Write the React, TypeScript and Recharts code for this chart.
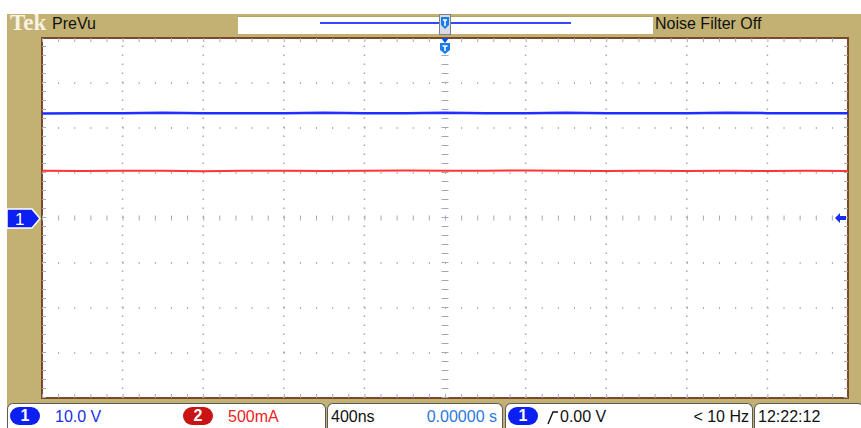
import { LineChart, Line, XAxis, YAxis, ReferenceLine, ReferenceArea } from "recharts";

// 400 ns/div, trigger at centre
const TIME_NS = [-2000, -1800, -1600, -1400, -1200, -1000, -800, -600, -400, -200, 0, 200, 400, 600, 800, 1000, 1200, 1400, 1600, 1800, 2000];
// ch1 10.0 V/div
const CH1_VOLTS = [23.2, 23.3, 23.3, 23.4, 23.3, 23.3, 23.3, 23.4, 23.3, 23.3, 23.4, 23.3, 23.3, 23.4, 23.3, 23.3, 23.3, 23.4, 23.3, 23.3, 23.3];
// ch2 500 mA/div
const CH2_MA = [525, 522, 526, 524, 520, 524, 526, 523, 525, 527, 524, 526, 528, 524, 522, 525, 523, 524, 522, 524, 522];

const GRID_X_NS = [-1600, -1200, -800, -400, 400, 800, 1200, 1600];
const GRID_Y_V = [-30, -20, -10, 10, 20, 30];

const data = TIME_NS.map((t, i) => ({ t, ch1: CH1_VOLTS[i], ch2: CH2_MA[i] }));

const TAN = "#c2b172";
const BORDER = "#7a4a28";
const DOT = "#a6a6bc";
const BLUE = "#1f2eff";
const RED = "#ff3434";
const FONT = "'Liberation Sans', Arial, sans-serif";

const txt = (left: number, color: string, extra: any = {}) => ({
  position: "absolute" as const,
  left,
  top: 3,
  fontSize: 16,
  lineHeight: "20px",
  color,
  whiteSpace: "nowrap" as const,
  ...extra,
});

function Pill({ left, label, bg }: { left: number; label: string; bg: string }) {
  return (
    <div
      style={{
        position: "absolute",
        left,
        top: 3,
        width: 30,
        height: 18,
        borderRadius: 9,
        background: bg,
        color: "#fff",
        fontSize: 16,
        lineHeight: "18px",
        textAlign: "center",
        fontWeight: "bold",
      }}
    >
      {label}
    </div>
  );
}

function Box({ left, width, children }: { left: number; width: number; children?: any }) {
  return (
    <div
      style={{
        position: "absolute",
        left,
        top: 403,
        width,
        height: 30,
        background: "#fff",
        border: "1px solid #5a5a5a",
        borderBottom: "none",
        borderRadius: "6px 6px 0 0",
        boxSizing: "border-box",
      }}
    >
      {children}
    </div>
  );
}

export default function App() {
  return (
    <div
      style={{
        position: "absolute",
        left: 0,
        top: 0,
        width: 861,
        height: 428,
        background: "#fff",
        overflow: "hidden",
        fontFamily: FONT,
      }}
    >
      <div style={{ position: "absolute", left: 7, top: 14, width: 854, height: 414, background: TAN }} />
      <div style={{ position: "absolute", left: 42, top: 38, width: 806, height: 360, background: "#fff" }} />

      <div style={{ position: "absolute", left: 0, top: 0 }}>
        <LineChart width={861} height={428} data={data} margin={{ top: 38, right: 13, bottom: 30, left: 42 }}>
          <XAxis dataKey="t" type="number" domain={[-2000, 2000]} hide />
          <YAxis yAxisId="v" type="number" domain={[-40, 40]} hide />
          <YAxis yAxisId="i" type="number" domain={[-2000, 2000]} hide orientation="right" />

          {GRID_Y_V.map((y) => (
            <ReferenceLine key={"h" + y} yAxisId="v" y={y} stroke={DOT} strokeWidth={2} strokeDasharray="1 15.12" />
          ))}
          {GRID_X_NS.map((x) => (
            <ReferenceLine key={"v" + x} yAxisId="v" x={x} stroke={DOT} strokeWidth={1.5} strokeDasharray="1.5 7.5" />
          ))}
          <ReferenceLine yAxisId="v" y={0} stroke={DOT} strokeWidth={5} strokeDasharray="1 15.12" />
          <ReferenceLine yAxisId="v" x={0} stroke={DOT} strokeWidth={7} strokeDasharray="1 8" />

          {/* edge ticks, clipped to half inside the graticule */}
          <ReferenceLine yAxisId="v" y={40} stroke={DOT} strokeWidth={8} strokeDasharray="1 15.12" ifOverflow="hidden" />
          <ReferenceLine yAxisId="v" y={-40} stroke={DOT} strokeWidth={8} strokeDasharray="1 15.12" ifOverflow="hidden" />
          <ReferenceLine yAxisId="v" x={-2000} stroke={DOT} strokeWidth={8} strokeDasharray="1 8" ifOverflow="hidden" />
          <ReferenceLine yAxisId="v" x={2000} stroke={DOT} strokeWidth={8} strokeDasharray="1 8" ifOverflow="hidden" />

          <ReferenceArea yAxisId="v" x1={-2000} x2={2000} y1={-40} y2={40} fill="none" stroke={BORDER} strokeWidth={2} />

          <Line yAxisId="v" dataKey="ch1" type="linear" stroke={BLUE} strokeWidth={2.5} dot={false} isAnimationActive={false} />
          <Line yAxisId="i" dataKey="ch2" type="linear" stroke={RED} strokeWidth={2} dot={false} isAnimationActive={false} />
        </LineChart>
      </div>

      {/* top bar */}
      <div style={{ position: "absolute", left: 10, top: 10, fontFamily: "'Liberation Serif', serif", fontWeight: "bold", fontSize: 23, color: "#f7f2e2" }}>
        Tek
      </div>
      <div style={{ position: "absolute", left: 52, top: 15, fontSize: 16, color: "#111" }}>PreVu</div>
      <div style={{ position: "absolute", left: 238, top: 16, width: 415, height: 17, background: "#fff", borderTop: "1px solid #b3a468" }} />
      <div style={{ position: "absolute", left: 320, top: 22, width: 251, height: 2, background: "#3548ff" }} />
      <svg style={{ position: "absolute", left: 438, top: 14 }} width={14} height={40}>
        <rect x={1.5} y={0.5} width={11} height={20} fill="#d6dbe6" stroke="#808080" />
        <path d="M3 3 L11 3 L11 11 L7 15 L3 11 Z" fill="#1a7ee8" />
        <path d="M5 6 H9 M7 6 V12" stroke="#fff" strokeWidth={1.5} />
        <path d="M3 24 L11 24 L7 29 Z" fill="#1050e0" />
        <path d="M2 29 L12 29 L12 36 L7 40 L2 36 Z" fill="#1a7ee8" />
        <path d="M4.5 32 H9.5 M7 32 V37" stroke="#fff" strokeWidth={1.5} />
      </svg>
      <div style={{ position: "absolute", left: 655, top: 15, fontSize: 16, color: "#111" }}>Noise Filter Off</div>

      {/* channel 1 ground marker */}
      <svg style={{ position: "absolute", left: 6, top: 208 }} width={36} height={21}>
        <path d="M1 1 H26 L34 10.5 L26 20 H1 Z" fill="#0b1ff2" stroke="#fff" strokeWidth={1.5} />
        <text x={9} y={16.5} fill="#fff" fontSize={17} fontFamily={FONT}>1</text>
      </svg>
      {/* trigger level marker */}
      <svg style={{ position: "absolute", left: 834, top: 212 }} width={13} height={12}>
        <path d="M1 6 L6 1 L6 4 L12 4 L12 8 L6 8 L6 11 Z" fill="#1a2cf0" />
      </svg>

      {/* bottom readout */}
      <Box left={7} width={319}>
        <Pill left={2} label="1" bg="#0b1ff2" />
        <div style={txt(47, "#1b2ee6")}>10.0 V</div>
        <Pill left={175} label="2" bg="#c81414" />
        <div style={txt(220, "#ea2424")}>500mA</div>
      </Box>
      <Box left={327} width={176}>
        <div style={txt(3, "#111")}>400ns</div>
        <div style={txt(0, "#2a78e2", { left: "auto", right: 5 })}>0.00000 s</div>
      </Box>
      <Box left={505} width={248}>
        <Pill left={2} label="1" bg="#0b1ff2" />
        <svg style={{ position: "absolute", left: 41, top: 6 }} width={12} height={15}>
          <path d="M1 14 L6 2 H11" stroke="#111" strokeWidth={1.4} fill="none" />
        </svg>
        <div style={txt(54, "#111")}>0.00 V</div>
        <div style={txt(0, "#111", { left: "auto", right: 3 })}>&lt; 10 Hz</div>
      </Box>
      <Box left={754} width={110}>
        <div style={txt(3, "#111")}>12:22:12</div>
      </Box>
    </div>
  );
}
